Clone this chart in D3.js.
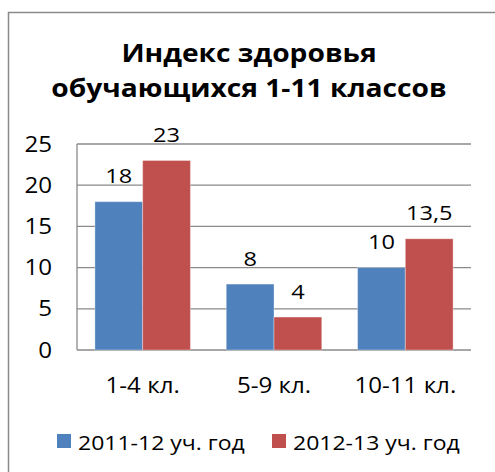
<!DOCTYPE html>
<meta charset="utf-8">
<title>Индекс здоровья</title>
<style>
body { margin: 0; background: #fff; }
text { font-family: "Open Sans", "Noto Sans", sans-serif; fill: #000; }
.title { font-weight: bold; font-size: 24.5px; text-anchor: middle; }
.tick { font-size: 21px; text-anchor: end; }
.cat { font-size: 21px; text-anchor: middle; }
.lbl { font-size: 20.5px; text-anchor: middle; }
.leg { font-size: 20px; }
.grid { stroke: #8a8a8a; stroke-width: 1.3px; }
</style>
<svg width="495" height="472"></svg>
<script src="https://d3js.org/d3.v7.min.js"></script>
<script>

var categories = ["1-4 кл.", "5-9 кл.", "10-11 кл."];
var seriesNames = ["2011-12 уч. год", "2012-13 уч. год"];
var values2011 = [18, 8, 10];
var values2012 = [23, 4, 13.5];
var yTicks = [0, 5, 10, 15, 20, 25];
var titleLines = ["Индекс здоровья", "обучающихся 1-11 классов"];
var colors = ["#4F81BD", "#C0504D"];

var stretch = 1.15; // the source picture's lettering is a bit wide

var svg = d3.select("svg");

// put text at (x,y) and widen it a little
function place(sel, fx, fy) {
  sel.attr("transform", function(d, i) {
    return "translate(" + fx(d, i) + "," + fy(d, i) + ") scale(" + stretch + ",1)";
  });
}

// outer frame (runs off the right/bottom of the picture)
svg.append("rect")
    .attr("x", 8.5).attr("y", 12.5)
    .attr("width", 520).attr("height", 500)
    .attr("fill", "none")
    .attr("stroke", "#8a8a8a")
    .attr("stroke-width", 1.5);

svg.selectAll(".title")
  .data(titleLines)
  .enter().append("text")
    .attr("class", "title")
    .text(function(d) { return d; })
    .call(place, function() { return 249; }, function(d, i) { return 61.5 + i * 35.5; });

var x0 = d3.scaleBand().domain(categories).range([77, 471]).paddingInner(0).paddingOuter(0);
var y = d3.scaleLinear().domain([0, 25]).range([350, 144]);
var x1 = d3.scaleBand().domain([0, 1]).range([0, x0.bandwidth()]).paddingInner(0).paddingOuter(0.375);

// gridlines
svg.selectAll(".grid")
  .data(yTicks)
  .enter().append("line")
    .attr("class", "grid")
    .attr("x1", 77).attr("x2", 471)
    .attr("y1", function(d) { return y(d); })
    .attr("y2", function(d) { return y(d); });

svg.append("line")
    .attr("class", "grid")
    .attr("x1", 77).attr("x2", 77)
    .attr("y1", y(25)).attr("y2", y(0));

svg.selectAll(".tick")
  .data(yTicks)
  .enter().append("text")
    .attr("class", "tick")
    .attr("dy", "0.36em")
    .text(function(d) { return d; })
    .call(place, function() { return 52; }, function(d) { return y(d); });

var rows = categories.map(function(c, i) {
  return { cat: c, vals: [values2011[i], values2012[i]] };
});

var groups = svg.selectAll(".grp")
  .data(rows)
  .enter().append("g")
    .attr("transform", function(d) { return "translate(" + x0(d.cat) + ",0)"; });

groups.selectAll("rect")
  .data(function(d) { return d.vals; })
  .enter().append("rect")
    .attr("x", function(d, i) { return x1(i); })
    .attr("y", function(d) { return y(d); })
    .attr("width", x1.bandwidth())
    .attr("height", function(d) { return y(0) - y(d); })
    .attr("fill", function(d, i) { return colors[i]; })
    .attr("stroke", "rgba(255,255,255,0.35)")
    .attr("stroke-width", 1);

groups.selectAll(".lbl")
  .data(function(d) { return d.vals; })
  .enter().append("text")
    .attr("class", "lbl")
    .text(function(d) { return String(d).replace(".", ","); })
    .call(place, function(d, i) { return x1(i) + x1.bandwidth() / 2; },
                 function(d) { return y(d) - 18.5; });

svg.selectAll(".cat")
  .data(categories)
  .enter().append("text")
    .attr("class", "cat")
    .text(function(d) { return d; })
    .call(place, function(d) { return x0(d) + x0.bandwidth() / 2; }, function() { return 393; });

// legend
var legX = [57, 272];
var leg = svg.selectAll(".legitem")
  .data(seriesNames)
  .enter().append("g")
    .attr("transform", function(d, i) { return "translate(" + legX[i] + ",0)"; });

leg.append("rect")
    .attr("x", 0).attr("y", 434)
    .attr("width", 14).attr("height", 14)
    .attr("fill", function(d, i) { return colors[i]; });

leg.append("text")
    .attr("class", "leg")
    .text(function(d) { return d; })
    .call(place, function() { return 21; }, function() { return 450; });

</script>
